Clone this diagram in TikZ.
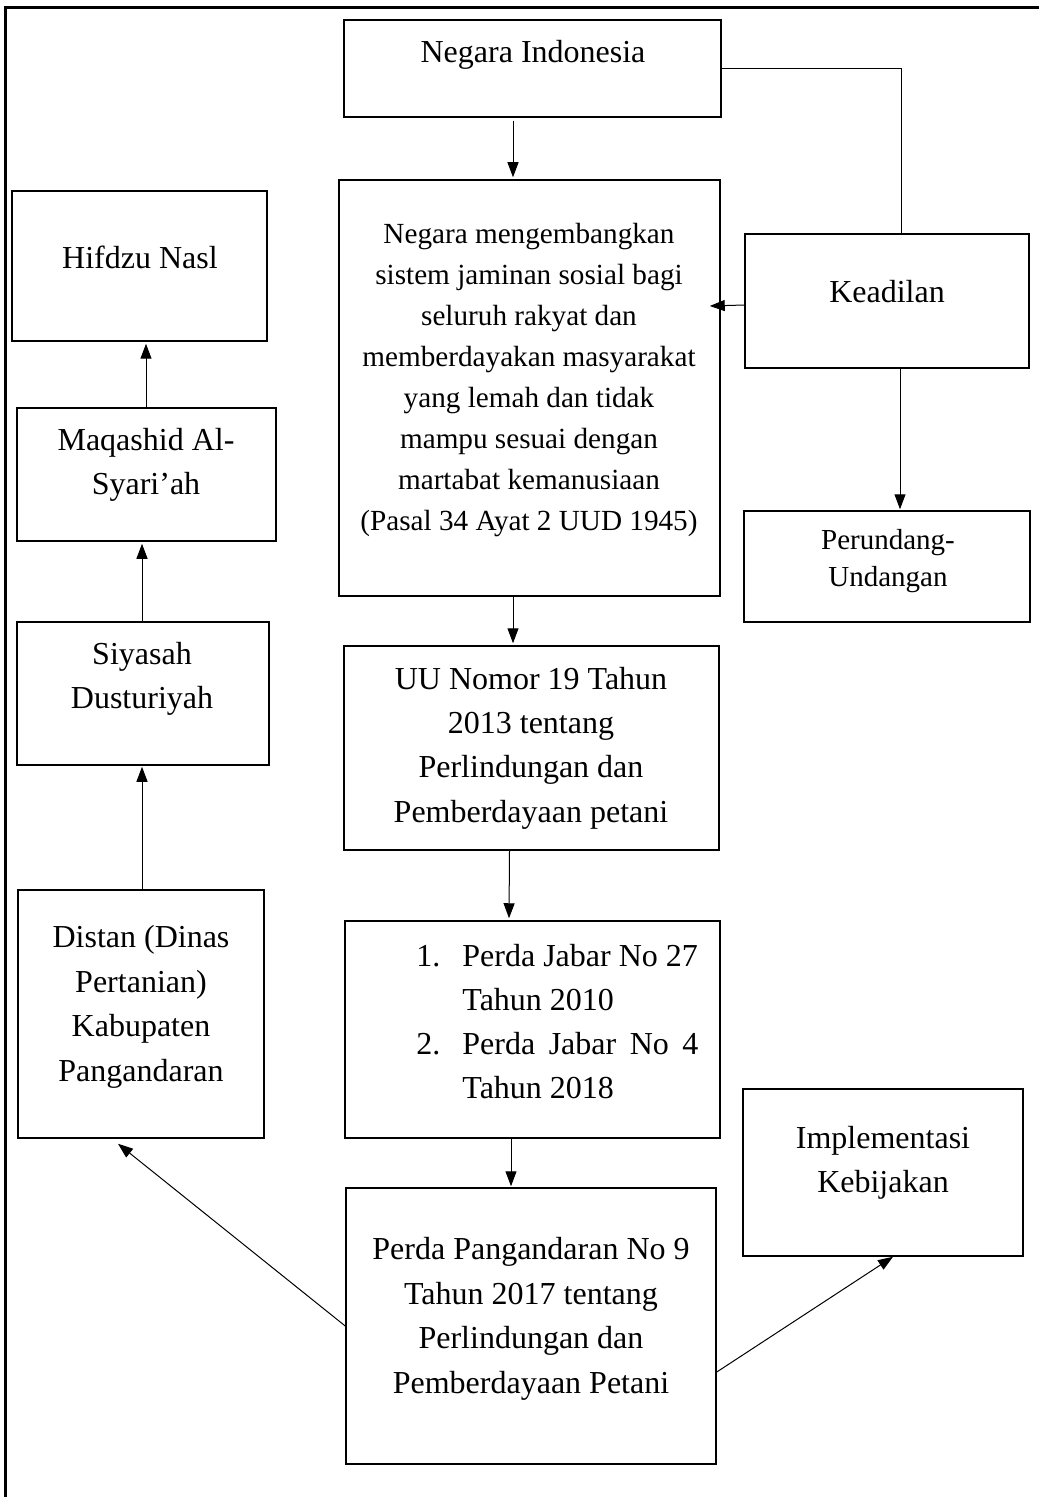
\documentclass[tikz,border=0pt]{standalone}
\usepackage{fontspec}
\setmainfont{Liberation Serif}
\usetikzlibrary{arrows.meta,calc,fit}
\begin{document}
\begin{tikzpicture}[x=0.5pt,y=-0.5pt,
  box/.style={draw,line width=0.75pt,inner sep=0pt},
  txt/.style={align=center,inner sep=0pt,font=\fontsize{16}{22}\selectfont},
  arr/.style={-{Triangle[length=7.5pt,width=5.5pt]},line width=0.5pt},
  ln/.style={line width=0.5pt}]
\useasboundingbox (0,0) rectangle (1039,1497);
% outer frame (only top and left visible)
\draw[line width=1.5pt] (5,1497) -- (5,8) -- (1039,8);

% boxes
\node[box,fit={(344,20) (721,117)}] (n1) {};
\node[box,fit={(339,180) (720,596)}] (b2) {};
\node[box,fit={(745,234) (1029,368)}] (k) {};
\node[box,fit={(744,511) (1030,622)}] (pu) {};
\node[box,fit={(12,191) (267,341)}] (h) {};
\node[box,fit={(17,408) (276,541)}] (m) {};
\node[box,fit={(17,622) (269,765)}] (s) {};
\node[box,fit={(18,890) (264,1138)}] (d) {};
\node[box,fit={(344,646) (719,850)}] (uu) {};
\node[box,fit={(345,921) (720,1138)}] (pj) {};
\node[box,fit={(743,1089) (1023,1256)}] (im) {};
\node[box,fit={(346,1188) (716,1464)}] (pp) {};

% texts
\node[txt] (n1t) at (533,55) {Negara Indonesia};
\node[txt,font=\fontsize{14.6}{20.5}\selectfont] (b2t) at (529,380.5) {Negara mengembangkan\\ sistem jaminan sosial bagi\\ seluruh rakyat dan\\ memberdayakan masyarakat\\ yang lemah dan tidak\\ mampu sesuai dengan\\ martabat kemanusiaan\\ (Pasal 34 Ayat 2 UUD 1945)};
\node[txt] (kt) at (887,292) {Keadilan};
\node[txt,font=\fontsize{14.5}{18.5}\selectfont] (put) at (888,561) {Perundang-\\Undangan};
\node[txt] (ht) at (140,257) {Hifdzu Nasl};
\node[txt] (mt) at (146,465) {Maqashid Al-\\Syari’ah};
\node[txt] (st) at (142,679) {Siyasah\\Dusturiyah};
\node[txt,font=\fontsize{16}{22.3}\selectfont] (dt) at (141,1007) {Distan (Dinas\\Pertanian)\\Kabupaten\\Pangandaran};
\node[txt,font=\fontsize{16}{22.2}\selectfont] (uut) at (531,748) {UU Nomor 19 Tahun\\2013 tentang\\Perlindungan dan\\Pemberdayaan petani};
\node[txt,align=left,anchor=west] (pjt) at (462,1022) {\llap{1.\hspace{11pt}}Perda Jabar No 27\\Tahun 2010\\\llap{2.\hspace{11pt}}\makebox[118pt][s]{Perda Jabar No 4}\\Tahun 2018};
\node[txt] (imt) at (883,1163) {Implementasi\\Kebijakan};
\node[txt,font=\fontsize{16}{22.3}\selectfont] (ppt) at (531,1319) {Perda Pangandaran No 9\\Tahun 2017 tentang\\Perlindungan dan\\Pemberdayaan Petani};

% connectors
\draw[arr] ($(n1.south)+(-19.5,3)$) -- ($(b2.north)+(-16.5,-2)$);
\draw[ln] (n1.east) -| ($(k.north)+(14,0)$);
\draw[arr] ($(k.west)+(0,4)$) -- ($(b2.east)+(-11,-82)$);
\draw[arr] ($(k.south)+(13,0)$) -- ($(pu.north)+(13,-1)$);
\draw[arr] ($(b2.south)+(-16.5,0)$) -- ($(uu.north)+(-18.5,-2)$);
\draw[arr] ($(uu.south)+(-22,0)$) -- ($(pj.north)+(-23.5,-2)$);
\draw[arr] ($(pj.south)+(-21.5,0)$) -- ($(pp.north)+(-20,-1)$);
\draw[arr] (pp.west) -- ($(d.south)+(-23,5)$);
\draw[arr] ($(pp.east)+(0,46)$) -- ($(im.south)+(10,0)$);
\draw[arr] ($(d.north)+(1,0)$) -- ($(s.south)+(-1,1)$);
\draw[arr] ($(s.north)+(-1,0)$) -- ($(m.south)+(-4.5,2)$);
\draw[arr] ($(m.north)+(-0.5,0)$) -- ($(h.south)+(6.5,2)$);
\end{tikzpicture}
\end{document}
